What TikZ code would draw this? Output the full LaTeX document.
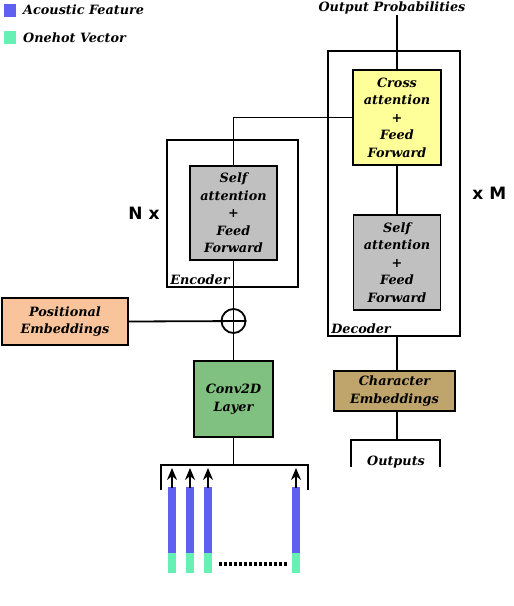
\documentclass[tikz,border=0pt]{standalone}
\usepackage{fontspec}
\usetikzlibrary{arrows.meta,positioning}
\newfontfamily\figfont{DejaVu Serif}
\newfontfamily\repfont{DejaVu Sans}
\definecolor{acoustic}{HTML}{5F5FF0}
\definecolor{onehot}{HTML}{66F0B4}
\definecolor{selfgray}{HTML}{C0C0C0}
\definecolor{crossyel}{HTML}{FFFF99}
\definecolor{posorange}{HTML}{F9C49B}
\definecolor{convgreen}{HTML}{80C080}
\definecolor{chartan}{HTML}{BFA46C}
\tikzset{wire/.style={draw, line width=1.8pt},
         uparr/.style={-{Stealth[length=12pt,width=10pt]}, line width=1.2pt},
         lbl/.style={font=\figfont\fontsize{12.8}{15}\selectfont\bfseries\itshape, inner sep=1pt},
         blk/.style={draw, line width=1.8pt, align=center, inner sep=0pt,
                     font=\figfont\fontsize{12.8}{17.5}\selectfont\bfseries\itshape},
         frame/.style={draw, line width=1.8pt, inner sep=0pt},
         rep/.style={font=\repfont\fontsize{17}{19}\selectfont\bfseries}}

\begin{document}
\begin{tikzpicture}[x=1pt,y=-1pt]
  \useasboundingbox (0,0) rectangle (514,606);
  % legend
  \fill[acoustic] (4,4) rectangle (16,17);
  \fill[onehot] (4,31) rectangle (16,44);
  \node[lbl, anchor=west] (lgac) at (22,10) {Acoustic Feature};
  \node[lbl, anchor=west] (lgoh) at (22,38) {Onehot Vector};
  % encoder
  \node[frame, minimum width=131, minimum height=147] (enc) at (232.5,213.5) {};
  \node[blk, fill=selfgray, minimum width=87, minimum height=94] (encsa) at (233.5,213)
    {Self\\attention\\+\\Feed\\Forward};
  \node[lbl, anchor=south west] (enclbl) at ([shift={(3,-2)}]enc.south west) {Encoder};
  \node[rep, left=3pt of enc] (nx) {N x};
  % decoder
  \node[frame, minimum width=132, minimum height=285] (dec) at (394,193.5) {};
  \node[blk, fill=crossyel, minimum width=88, minimum height=95] (cross) at (397,117.5)
    {Cross\\attention\\+\\Feed\\Forward};
  \node[blk, fill=selfgray, minimum width=87, minimum height=95] (decsa) at (397,262.5)
    {Self\\attention\\+\\Feed\\Forward};
  \node[lbl, anchor=south west] (declbl) at ([shift={(3,-2)}]dec.south west) {Decoder};
  \node[rep, right=8pt of dec] (xm) {x M};
  \node[lbl] (outp) at (392,8) {Output Probabilities};
  % inputs
  \node[blk, fill=posorange, minimum width=126, minimum height=47] (pos) at (65,321.5)
    {Positional\\Embeddings};
  \node[draw, line width=1.8pt, circle, minimum size=24, inner sep=0pt] (oplus) at (233.5,321) {};
  \node[blk, fill=convgreen, minimum width=79, minimum height=76] (conv) at (233.5,399)
    {Conv2D\\Layer};
  \node[blk, fill=chartan, minimum width=121, minimum height=40] (chemb) at (394.5,391)
    {Character\\Embeddings};
  \node[lbl] (outs) at (396,462) {Outputs};
  % connectors
  \path[wire] (cross.north |- outp.south) -- (cross.north);
  \path[wire] (cross) -- (decsa);
  \path[wire] (cross.west) -| (encsa.north);
  \path[wire] (encsa.south) -- (conv.north);
  \path[wire] (pos.east) -- (oplus.east);
  \path[wire] (cross.south |- dec.south) -- (cross.south |- chemb.north);
  \coordinate (obrk) at (397,440);
  \path[wire] (cross.south |- chemb.south) -- (obrk);
  \path[wire] (351,467) |- (obrk) -| (440,467);
  \coordinate (ibrk) at (233.5,465);
  \path[wire] (conv.south) -- (ibrk);
  \path[wire] (161,490) |- (ibrk) -| (308,490);
  % feature frames
  \foreach \x in {172,190,208,296} {
    \fill[acoustic] (\x-4,487) rectangle (\x+4,553);
    \fill[onehot] (\x-4,553) rectangle (\x+4,573);
    \draw[uparr] (\x,488) -- (\x,468);
  }
  \draw[line width=3.5pt, dash pattern=on 2.5pt off 2.5pt] (219,564) -- (287,564);
\end{tikzpicture}
\end{document}
